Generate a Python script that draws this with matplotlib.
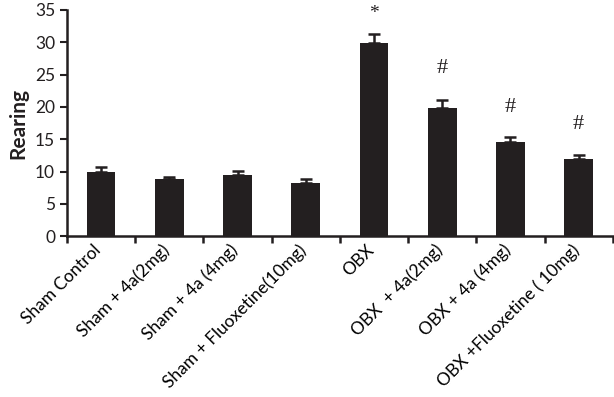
import matplotlib.pyplot as plt
import matplotlib.transforms as mtransforms
import numpy as np

groups = ["Sham Control", "Sham + 4a(2mg)", "Sham + 4a (4mg)", "Sham + Fluoxetine(10mg)",
          "OBX", "OBX  + 4a(2mg)", "OBX + 4a (4mg)", "OBX +Fluoxetine ( 10mg)"]
rearing = [10.0, 8.8, 9.4, 8.3, 29.9, 19.8, 14.5, 11.9]
sem = [0.7, 0.3, 0.7, 0.6, 1.4, 1.2, 0.9, 0.7]
marks = ["", "", "", "", "*", "#", "#", "#"]
mark_y = [0, 0, 0, 0, 34.5, 25.9, 19.9, 17.3]

plt.rcParams["font.family"] = ["Lato", "DejaVu Sans"]

fig = plt.figure(figsize=(6.14, 3.97), dpi=100)
ax = fig.add_axes([0.109, 0.405, 0.889, 0.57])

x = np.arange(len(groups))
ax.bar(x, rearing, width=0.42, color="#231f20", zorder=2)
ax.errorbar(x, rearing, yerr=[np.zeros(len(sem)), sem], fmt="none",
            ecolor="#231f20", elinewidth=1.8, capsize=4.5, capthick=1.8, zorder=1)

for xi, m, my in zip(x, marks, mark_y):
    if m:
        ax.text(xi, my, m, ha="center", va="center", fontsize=16 if m == "#" else 14,
                clip_on=False, family=["Liberation Serif", "DejaVu Serif"], color="#231f20")

ax.set_xlim(-0.5, len(groups) - 0.5)
ax.set_ylim(0, 35)
ax.set_yticks(range(0, 36, 5))
ax.set_xticks(x)
ax.set_xticklabels(groups, rotation=45, ha="right", rotation_mode="anchor", fontsize=12.5)
ax.tick_params(axis="x", length=0, pad=4)
shift = mtransforms.ScaledTranslation(-8 / 100, 0, fig.dpi_scale_trans)
for lbl in ax.get_xticklabels():
    lbl.set_transform(lbl.get_transform() + shift)
ax.set_xticks(np.arange(-0.5, len(groups), 1.0), minor=True)
ax.tick_params(axis="x", which="minor", length=5, width=1.8, color="#231f20")
ax.tick_params(axis="y", length=5, width=1.5, labelsize=12.5, color="#231f20", labelcolor="#231f20")
ax.set_ylabel("Rearing", fontsize=15, fontweight="bold", color="#231f20", labelpad=5)

for s in ["top", "right"]:
    ax.spines[s].set_visible(False)
for s in ["left", "bottom"]:
    ax.spines[s].set_linewidth(1.8)
    ax.spines[s].set_color("#231f20")

fig.savefig("out.png", dpi=100)
